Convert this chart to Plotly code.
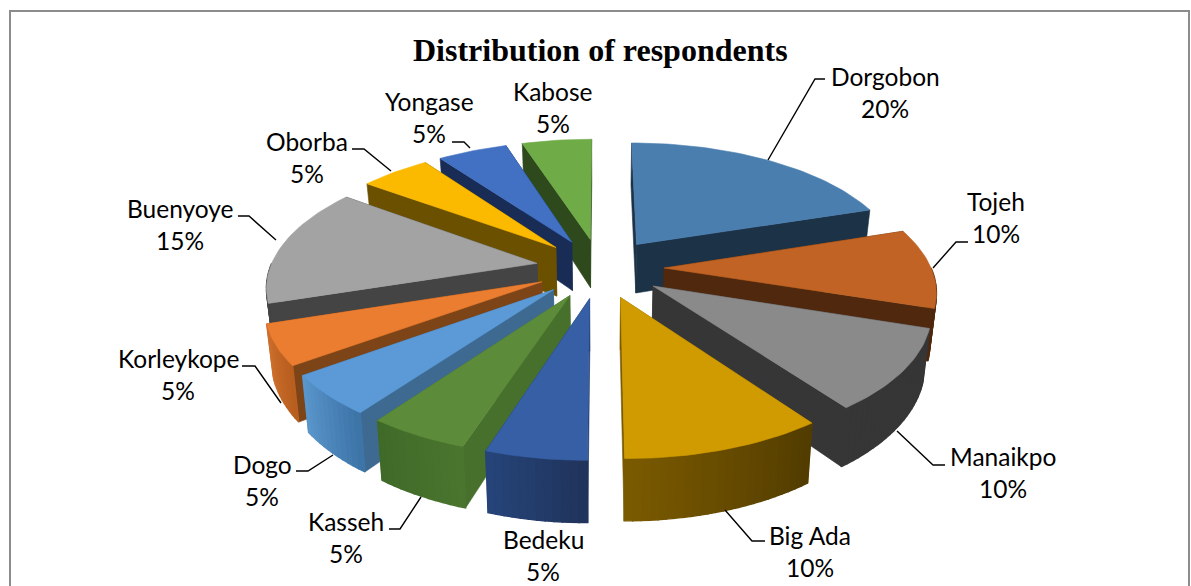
import math
import plotly.graph_objects as go

# ---- data ----
categories = ["Dorgobon", "Tojeh", "Manaikpo", "Big Ada", "Bedeku", "Kasseh",
              "Dogo", "Korleykope", "Buenyoye", "Oborba", "Yongase", "Kabose"]
percent = [20, 10, 10, 10, 5, 5, 5, 5, 15, 5, 5, 5]
top_colors = ["#4A7EAF", "#C06324", "#8A8A8A", "#D09B00", "#365FA5", "#5C8C3A",
              "#5B9AD6", "#EB7D31", "#A3A3A3", "#FBB900", "#4270C2", "#6FAB46"]
wall_colors = ["#1B3247", "#4F280D", "#363636", "#7A5A00", "#22396A", "#47702C",
               "#3E6A92", "#7D4418", "#444444", "#6B5000", "#182C55", "#2E4A1D"]
rim_start = ["#1B3247", "#4F280D", "#363636", "#523C00", "#20345C", "#4A752F",
             "#3E75A8", "#B85F20", "#444444", "#6B5000", "#182C55", "#2E4A1D"]
rim_end = ["#1B3247", "#4F280D", "#363636", "#7A5A00", "#264479", "#3F6A28",
           "#5A96CC", "#D0702D", "#444444", "#6B5000", "#182C55", "#2E4A1D"]

label_xy = [(885, 76), (996, 201), (1003, 456), (810, 535), (543, 539), (346, 521),
            (262, 464), (178, 358), (180, 208), (307, 141), (429, 101), (553, 91)]
leaders = [[(825, 79), (815, 79), (768, 160)],
           [(968, 242), (956, 242), (933, 268)],
           [(945, 465), (933, 465), (897, 431)],
           [(765, 541), (752, 541), (725, 510)],
           [(389, 529), (400, 529), (421, 497)],
           [(296, 471), (308, 471), (333, 455)],
           [(242, 366), (255, 366), (281, 403)],
           [(238, 216), (249, 216), (276, 240)],
           [(352, 149), (364, 149), (391, 171)],
           [(452, 142), (464, 142), (470, 148)]]

# ---- view of the exploded 3-D pie ----
CX, CY, AX, BY, PERSP, EXPLODE, DEPTH, BOTTOM_SHRINK = 600, 268, 267, 124.7, 0.16, 0.24, 50, 0.98
WIDTH, HEIGHT = 1191, 586


def project(wx, wy, bottom=False):
    s = 1 / (1 + PERSP * wy)
    x = AX * wx * s
    y = -BY * wy * s
    if bottom:
        return CX + x * BOTTOM_SHRINK, CY + y + DEPTH * s
    return CX + x, CY + y


def mix(a, b, t):
    ca = [int(a[i:i + 2], 16) for i in (1, 3, 5)]
    cb = [int(b[i:i + 2], 16) for i in (1, 3, 5)]
    return "#%02X%02X%02X" % tuple(round(p + (q - p) * t) for p, q in zip(ca, cb))


def polygon(pts, color, name, edge=0.6):
    return go.Scatter(x=[p[0] for p in pts] + [pts[0][0]],
                      y=[p[1] for p in pts] + [pts[0][1]],
                      mode="lines", fill="toself", fillcolor=color,
                      line=dict(color=color, width=edge),
                      hoverinfo="skip", showlegend=False, name=name)


slices = []
start = 0.0
for i, pct in enumerate(percent):
    sweep = pct * 3.6
    slices.append((i, start, start + sweep))
    start += sweep

slices.sort(key=lambda s: -math.cos(math.radians((s[1] + s[2]) / 2)))

traces = []
for i, a0, a1 in slices:
    name = categories[i]
    mid = math.radians((a0 + a1) / 2)
    ox, oy = EXPLODE * math.sin(mid), EXPLODE * math.cos(mid)
    n = max(12, int((a1 - a0) / 1.5))
    angles = [math.radians(a0 + (a1 - a0) * k / n) for k in range(n + 1)]
    rim = [(ox + math.sin(a), oy + math.cos(a)) for a in angles]

    faces = []
    for k in range(n):
        # the outer rim of the far half faces away from the viewer
        if math.cos((angles[k] + angles[k + 1]) / 2) > 0:
            continue
        p, q = rim[k], rim[k + 1]
        pts = [project(*p), project(*q), project(*q, True), project(*p, True)]
        faces.append(((p[1] + q[1]) / 2, pts, mix(rim_start[i], rim_end[i], k / (n - 1)), 1.4))
    for p in (rim[0], rim[-1]):
        pts = [project(ox, oy), project(*p), project(*p, True), project(ox, oy, True)]
        faces.append(((oy + p[1]) / 2, pts, wall_colors[i], 0.6))
    faces.sort(key=lambda f: -f[0])
    for _, pts, color, edge in faces:
        traces.append(polygon(pts, color, name, edge))
    top = [project(ox, oy)] + [project(*p) for p in rim]
    traces.append(polygon(top, top_colors[i], name))

fig = go.Figure(traces)

for path in leaders:
    fig.add_trace(go.Scatter(x=[p[0] for p in path], y=[p[1] for p in path], mode="lines",
                             line=dict(color="#000000", width=1.4),
                             hoverinfo="skip", showlegend=False))

LABEL_FONT = dict(family="Lato", size=24.5, color="#000000")
annotations = []
for cat, pct, (lx, ly) in zip(categories, percent, label_xy):
    annotations.append(dict(x=lx, y=ly, text=cat, showarrow=False, font=LABEL_FONT,
                            xanchor="center", yanchor="middle"))
    annotations.append(dict(x=lx, y=ly + 32, text=f"{pct}%", showarrow=False, font=LABEL_FONT,
                            xanchor="center", yanchor="middle"))
annotations.append(dict(x=600, y=50, text="<b>Distribution of respondents</b>", showarrow=False,
                        font=dict(family="Liberation Serif", size=32, color="#000000"),
                        xanchor="center", yanchor="middle"))

frame = dict(type="path", path=f"M 10 {HEIGHT} L 10 11 L 1189 11 L 1189 {HEIGHT}",
             line=dict(color="#8C8C8C", width=2))

fig.update_layout(
    width=WIDTH, height=HEIGHT, autosize=False,
    margin=dict(l=0, r=0, t=0, b=0),
    paper_bgcolor="#FFFFFF", plot_bgcolor="#FFFFFF",
    showlegend=False, hovermode=False,
    xaxis=dict(range=[0, WIDTH], visible=False, fixedrange=True),
    yaxis=dict(range=[HEIGHT, 0], visible=False, fixedrange=True),
    annotations=annotations, shapes=[frame],
)

fig.write_html("out.html", config=dict(displayModeBar=False),
               default_width=f"{WIDTH}px", default_height=f"{HEIGHT}px",
               post_script="document.body.style.margin='0';document.body.style.overflow='hidden';")
